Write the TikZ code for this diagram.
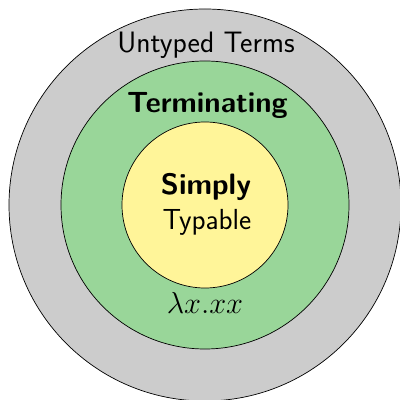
\documentclass[tikz,border=0pt]{standalone}
\usepackage{amsmath}
\usepackage{tikz}
\usetikzlibrary{positioning}
\usepackage{xcolor}
\definecolor{tmgray}{RGB}{204,204,204}
\definecolor{tmgreen}{RGB}{153,214,153}
\definecolor{tmyellow}{RGB}{255,245,153}
\tikzstyle{termset} = [circle, draw=black, thin, inner sep=0pt]
\tikzstyle{setlabel} = [font=\sffamily\fontsize{16.8}{20}\selectfont, anchor=base]

\begin{document}
\begin{tikzpicture}
\useasboundingbox (-4.1,-3.9) rectangle (3.9,4.1);
% Sets
\node (untyped) [termset, fill=tmgray, minimum size=7.84cm] at (0,0) {};
\node (terminating) [termset, fill=tmgreen, minimum size=5.76cm] at (0,0) {};
\node (simply) [termset, fill=tmyellow, minimum size=3.32cm] at (0,0) {};

% Labels
\node (untypedlbl) [setlabel] at (0.02,3.04) {Untyped Terms};
\node (terminatinglbl) [setlabel, font=\sffamily\bfseries\fontsize{16.6}{20}\selectfont] at (0.05,1.84) {Terminating};
\node (simplylbl) [setlabel, font=\sffamily\bfseries\fontsize{16.8}{20}\selectfont] at (0.02,0.2) {Simply};
\node (typablelbl) [setlabel, font=\sffamily\fontsize{16.5}{20}\selectfont] at (0.04,-0.5) {Typable};
\node (omegalbl) [setlabel, font=\fontsize{16.5}{20}\selectfont] at (0,-2.16) {$\lambda x.xx$};
\end{tikzpicture}
\end{document}
